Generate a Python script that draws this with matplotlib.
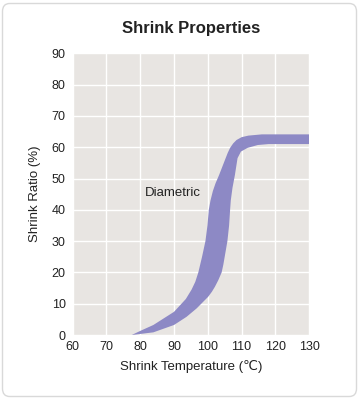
import matplotlib
matplotlib.use("Agg")
import matplotlib.pyplot as plt
from matplotlib.patches import FancyBboxPatch

plt.rcParams['font.family'] = ['Liberation Sans', 'DejaVu Sans']

# Data: upper (left/top) edge and lower (right/bottom) edge of the band
x_upper = [77.5, 80, 83.9, 90, 93.5, 95.2, 96.3, 97.2, 98.3, 99.3, 99.9, 100.3, 100.8, 101.5, 102.3, 103.3,
           104.2, 105.1, 105.9, 106.6, 107.5, 108.5, 110, 112, 116, 130]
y_upper = [0, 1.3, 3.2, 7.4, 11.5, 14.5, 17, 20, 25, 30, 35, 40, 43, 46, 48.5, 51,
           53.5, 56, 58.2, 59.8, 61.2, 62.3, 63.2, 63.7, 64.1, 64.1]
x_lower = [77.5, 83.9, 90, 93.7, 96.7, 100.1, 101.2, 102.1, 103.1, 104.1, 104.6, 105.0, 105.8, 106.3, 106.6,
           106.8, 107.3, 108, 108.8, 109.8, 111.8, 114.8, 118, 130]
y_lower = [0, 0.85, 3.2, 5.8, 8.5, 12.2, 13.8, 15.4, 17.5, 20, 22.5, 25, 30, 35, 40,
           43, 47, 51, 56.5, 58.6, 59.8, 60.7, 61, 61]

x_ticks = [60, 70, 80, 90, 100, 110, 120, 130]
y_ticks = [0, 10, 20, 30, 40, 50, 60, 70, 80, 90]

title = "Shrink Properties"
x_label = "Shrink Temperature (\u2103)"
y_label = "Shrink Ratio (%)"
series_label = "Diametric"

fig = plt.figure(figsize=(3.6, 3.99), dpi=100)
fig.patch.set_facecolor('white')
border = FancyBboxPatch((2.5/360, 2.5/399), 354/360, 393/399,
                        boxstyle="round,pad=0,rounding_size=0.02",
                        transform=fig.transFigure, facecolor='white',
                        edgecolor='#d9d9d9', linewidth=1.0, zorder=-10)
fig.add_artist(border)

ax = fig.add_axes([72.6/360, (399-335)/399, 236.6/360, 281.7/399])
ax.set_zorder(1)
ax.set_facecolor('#e8e5e2')
ax.set_xlim(60, 130)
ax.set_ylim(0, 90)
ax.set_xticks(x_ticks)
ax.set_yticks(y_ticks)
ax.grid(True, color='white', linewidth=1.0)
ax.set_axisbelow(True)
for s in ax.spines.values():
    s.set_visible(False)
ax.tick_params(length=0, labelsize=9, colors='#222222')
ax.tick_params(axis='y', pad=5)
ax.tick_params(axis='x', pad=4)

poly_x = x_upper + x_lower[::-1]
poly_y = y_upper + y_lower[::-1]
ax.fill(poly_x, poly_y, color='#8d89c5', linewidth=0, zorder=3)

ax.text(81.4, 45.3, series_label, fontsize=9.5, color='#222222', va='center', ha='left')

ax.set_xlabel(x_label, fontsize=9.5, color='#222222')
ax.xaxis.set_label_coords(0.5, -0.1125)
ax.xaxis.label.set_va('center')
ax.set_ylabel(y_label, fontsize=9.5, color='#222222')
ax.yaxis.set_label_coords(-0.159, 0.5)
ax.yaxis.label.set_va('center')

fig.text(190.9/360, 1 - 28.3/399, title, fontsize=12, fontweight='bold',
         color='#222222', ha='center', va='center')

fig.savefig('out.png', dpi=100)
